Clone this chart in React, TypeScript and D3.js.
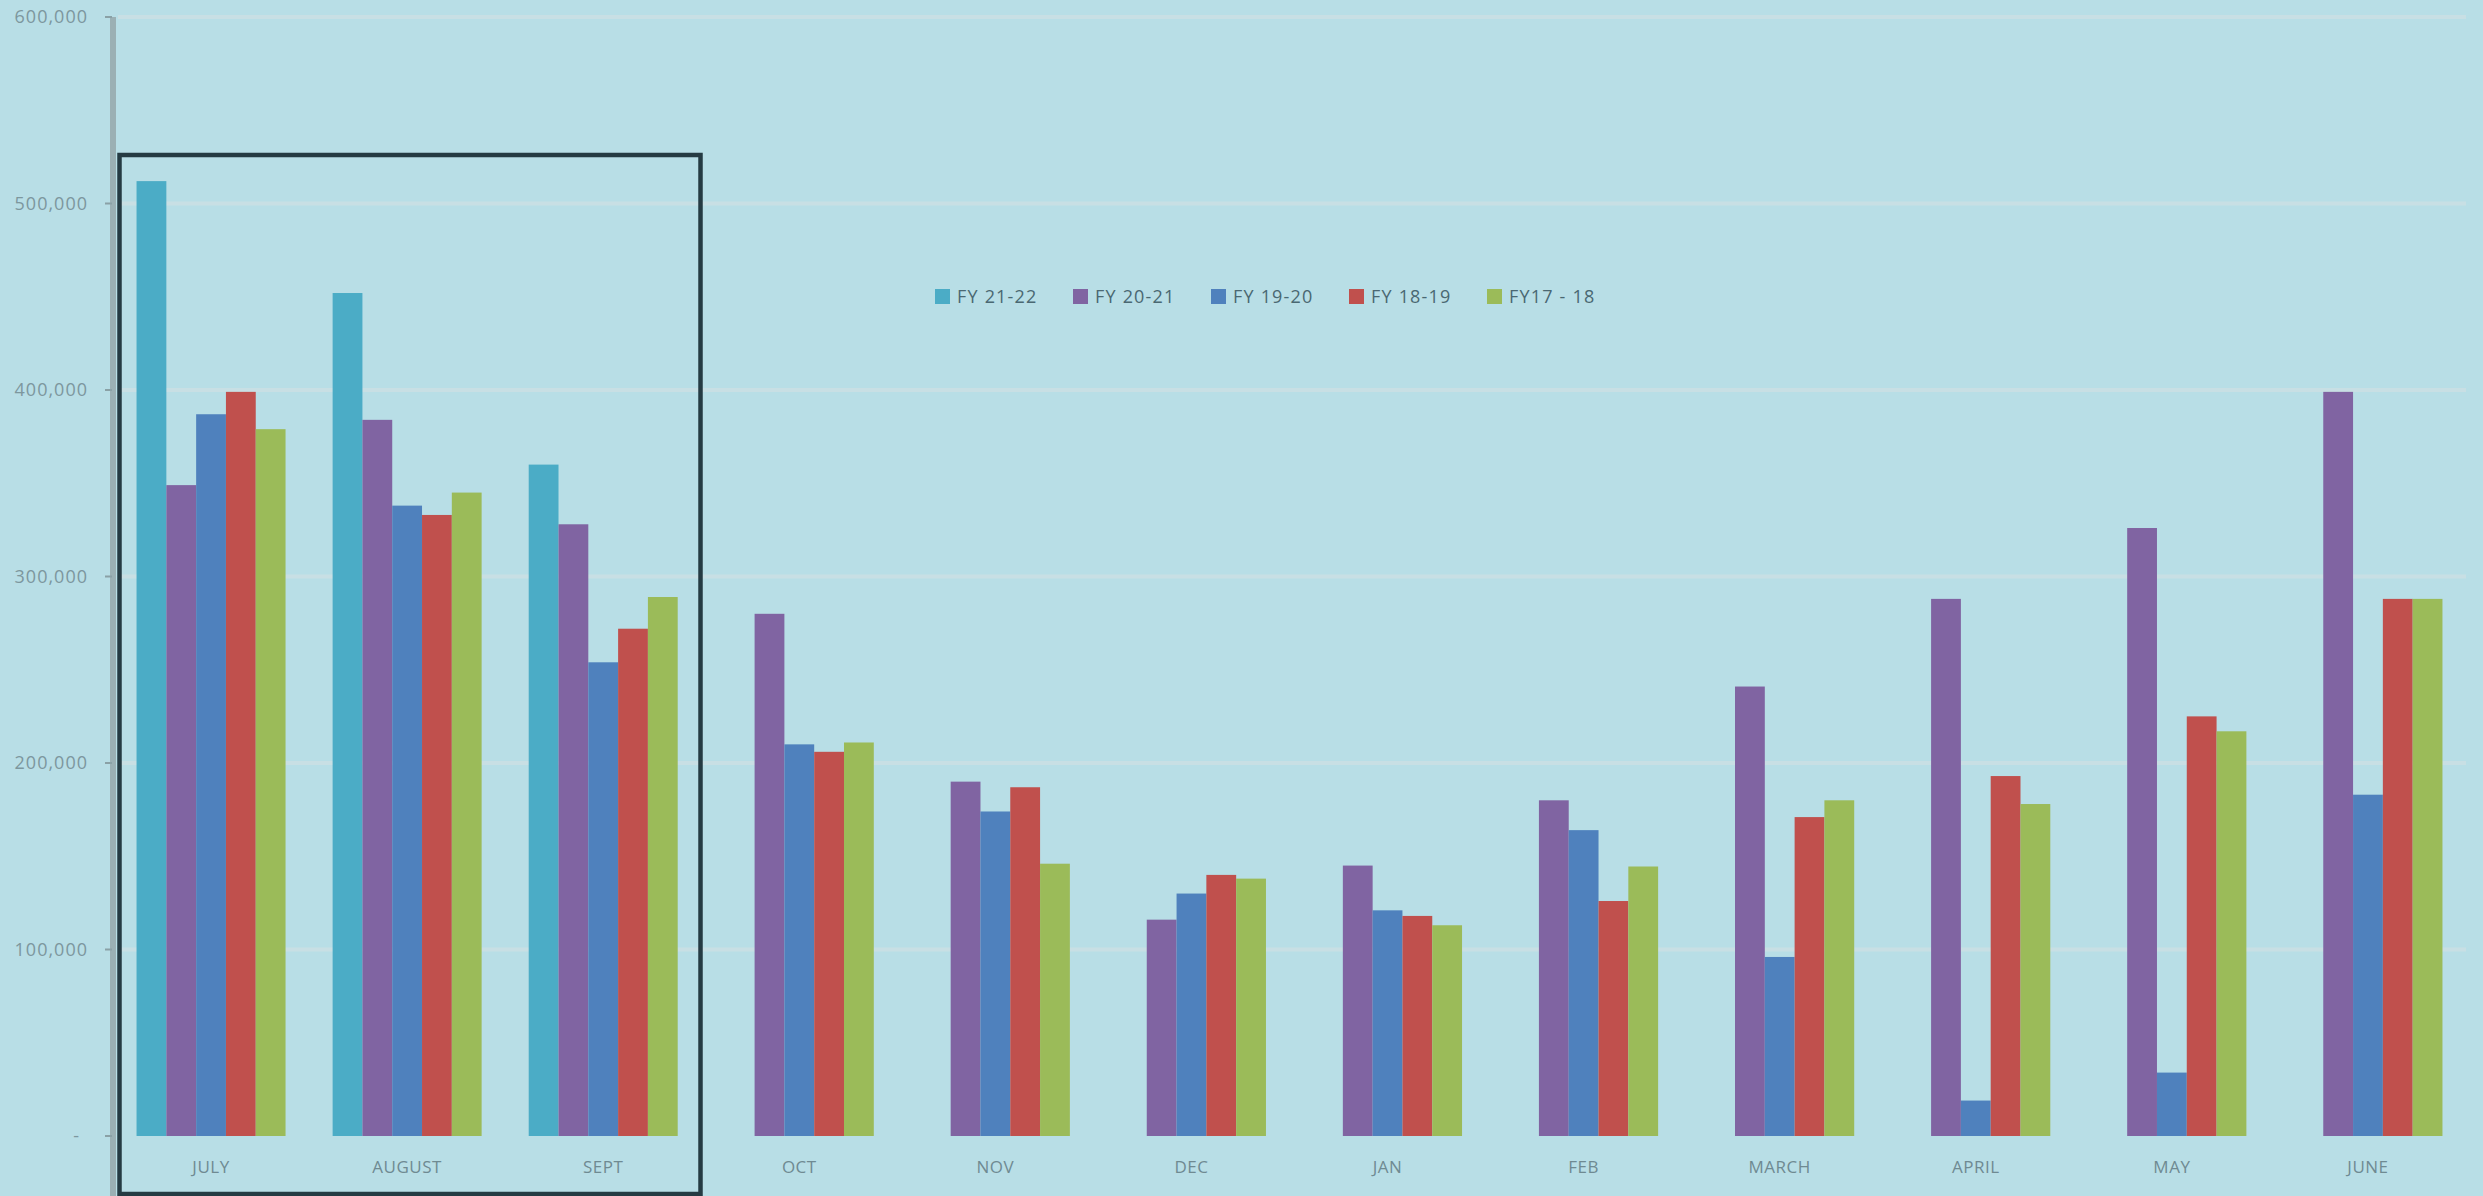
import React from "react";
import * as d3 from "d3";

const months = ["JULY", "AUGUST", "SEPT", "OCT", "NOV", "DEC", "JAN", "FEB", "MARCH", "APRIL", "MAY", "JUNE"];
const seriesNames = ["FY 21-22", "FY 20-21", "FY 19-20", "FY 18-19", "FY17 - 18"];
const seriesColors = ["#4bacc6", "#8064a2", "#4f81bd", "#c0504d", "#9bbb59"];

const fy2122 = [512000, 452000, 360000, null, null, null, null, null, null, null, null, null];
const fy2021 = [349000, 384000, 328000, 280000, 190000, 116000, 145000, 180000, 241000, 288000, 326000, 399000];
const fy1920 = [387000, 338000, 254000, 210000, 174000, 130000, 121000, 164000, 96000, 19000, 34000, 183000];
const fy1819 = [399000, 333000, 272000, 206000, 187000, 140000, 118000, 126000, 171000, 193000, 225000, 288000];
const fy1718 = [379000, 345000, 289000, 211000, 146000, 138000, 113000, 144500, 180000, 178000, 217000, 288000];

const yTicks = [0, 100000, 200000, 300000, 400000, 500000, 600000];

const W = 2483;
const H = 1196;

export default function App() {
  const allSeries = [fy2122, fy2021, fy1920, fy1819, fy1718];
  const x0 = d3.scaleBand<string>().domain(months).range([113, 2466]).paddingInner(0).paddingOuter(0);
  const x1 = d3
    .scaleBand<string>()
    .domain(seriesNames)
    .range([0, x0.bandwidth()])
    .paddingInner(0)
    .paddingOuter(0.79);
  const y = d3.scaleLinear().domain([0, 600000]).range([1136, 17]);
  const fmt = d3.format(",");

  const font = "'Open Sans', 'DejaVu Sans', sans-serif";

  return (
    <svg
      width={W}
      height={H}
      style={{ position: "absolute", left: 0, top: 0, display: "block" }}
      fontFamily={font}
    >
      <rect x={0} y={0} width={W} height={H} fill="#b8dee6" />
      {/* gridlines */}
      {yTicks
        .filter((t) => t > 0)
        .map((t) => (
          <line key={"g" + t} x1={118} x2={2466} y1={y(t)} y2={y(t)} stroke="#c8dfe4" strokeWidth={4} />
        ))}
      {/* bars */}
      {months.map((m, i) => (
        <g key={m} transform={`translate(${x0(m)},0)`}>
          {allSeries.map((s, j) => {
            const v = s[i];
            if (v == null) return null;
            return (
              <rect
                key={seriesNames[j]}
                x={x1(seriesNames[j])}
                y={y(v)}
                width={x1.bandwidth()}
                height={y(0) - y(v)}
                fill={seriesColors[j]}
              />
            );
          })}
        </g>
      ))}
      {/* y axis */}
      <line x1={113} x2={113} y1={17} y2={H} stroke="#9bb0b4" strokeWidth={6} />
      {yTicks.map((t) => (
        <g key={"t" + t}>
          <line x1={105} x2={112} y1={y(t)} y2={y(t)} stroke="#8aa1a6" strokeWidth={2} />
          <text
            x={t === 0 ? 80 : 88}
            y={y(t)}
            dy="0.35em"
            textAnchor="end"
            fontSize={18}
            letterSpacing={1}
            fill="#7d979e"
          >
            {t === 0 ? "-" : fmt(t)}
          </text>
        </g>
      ))}
      {/* x labels */}
      {months.map((m) => (
        <text
          key={"l" + m}
          x={(x0(m) as number) + x0.bandwidth() / 2}
          y={1167}
          dy="0.35em"
          textAnchor="middle"
          fontSize={17}
          letterSpacing={0.5}
          fill="#6f8a92"
        >
          {m}
        </text>
      ))}
      {/* legend */}
      {seriesNames.map((n, j) => (
        <g key={"lg" + n} transform={`translate(${935 + j * 138},0)`}>
          <rect x={0} y={289} width={15} height={15} fill={seriesColors[j]} />
          <text x={22} y={297} dy="0.35em" fontSize={18} letterSpacing={1.2} fill="#4a6872">
            {n}
          </text>
        </g>
      ))}
      {/* highlight box */}
      <rect x={119.5} y={155} width={581} height={1039} fill="none" stroke="#253b43" strokeWidth={4.5} />
    </svg>
  );
}
